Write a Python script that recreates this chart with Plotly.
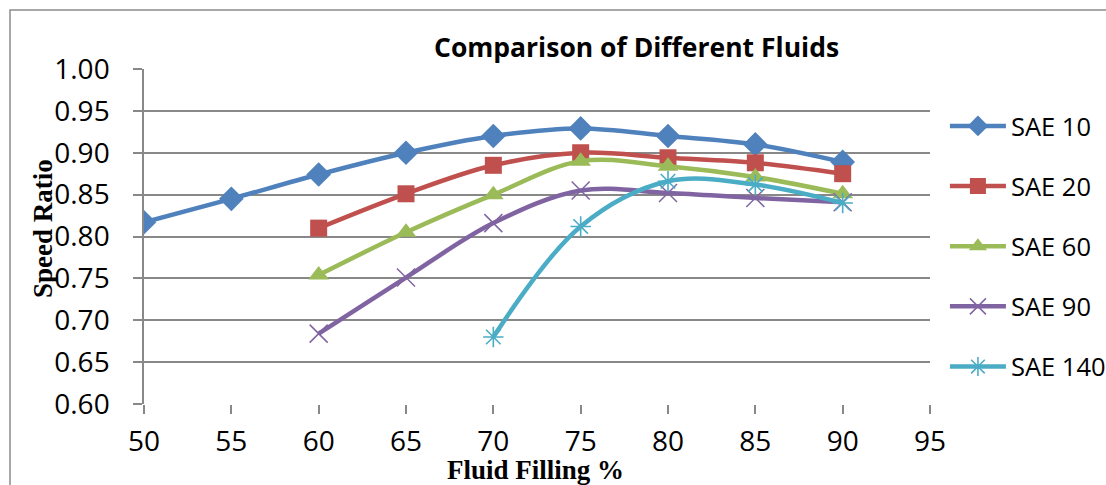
import plotly.graph_objects as go

# Fluid filling levels (%)
fill_pct = [50, 55, 60, 65, 70, 75, 80, 85, 90]

# Speed ratio for each oil grade
sae10 = [0.817, 0.845, 0.874, 0.900, 0.920, 0.929, 0.920, 0.910, 0.889]
sae20_x = [60, 65, 70, 75, 80, 85, 90]
sae20 = [0.810, 0.851, 0.885, 0.900, 0.894, 0.888, 0.875]
sae60_x = [60, 65, 70, 75, 80, 85, 90]
sae60 = [0.754, 0.805, 0.850, 0.890, 0.884, 0.871, 0.851]
sae90_x = [60, 65, 70, 75, 80, 85, 90]
sae90 = [0.684, 0.751, 0.816, 0.855, 0.852, 0.846, 0.841]
sae140_x = [70, 75, 80, 85, 90]
sae140 = [0.680, 0.812, 0.866, 0.862, 0.840]

x_ticks = [50, 55, 60, 65, 70, 75, 80, 85, 90, 95]
y_ticks = [0.60, 0.65, 0.70, 0.75, 0.80, 0.85, 0.90, 0.95, 1.00]

series = [
    ("SAE 10", fill_pct, sae10, "#4F81BD", "diamond", 19, 0),
    ("SAE 20", sae20_x, sae20, "#C0504D", "square", 17, 0),
    ("SAE 60", sae60_x, sae60, "#9BBB59", "triangle-up", 18, 0),
    ("SAE 90", sae90_x, sae90, "#8064A2", "x-thin-open", 18, 1.5),
    ("SAE 140", sae140_x, sae140, "#4BACC6", "asterisk-open", 17, 1.6),
]

fig = go.Figure()
for name, xs, ys, color, symbol, size, mlw in series:
    marker = dict(symbol=symbol, size=size, color=color)
    if mlw:
        marker["line"] = dict(color=color, width=mlw)
    else:
        marker["line"] = dict(width=0)
    fig.add_trace(go.Scatter(
        x=xs, y=ys, name=name, mode="lines+markers",
        line=dict(color=color, width=4.5, shape="spline", smoothing=1.0),
        marker=marker, legendgroup=name,
    ))

grid = "#888888"
fig.update_layout(
    width=1106, height=485,
    margin=dict(l=144, r=176, t=69, b=81, autoexpand=False),
    paper_bgcolor="white", plot_bgcolor="white",
    font=dict(family="Open Sans", color="black"),
    showlegend=True,
    legend=dict(
        x=1.019, xanchor="left", y=0.899, yanchor="top",
        font=dict(family="Open Sans", size=25.5, color="black"),
        itemwidth=56, tracegroupgap=24, bgcolor="rgba(0,0,0,0)",
    ),
    xaxis=dict(
        range=[50, 95], tickvals=x_ticks, ticktext=[str(v) for v in x_ticks],
        showgrid=False, zeroline=False,
        showline=False, ticks="outside", ticklen=9, tickcolor=grid, tickwidth=1.5,
        ticklabelstandoff=3,
        tickfont=dict(family="Open Sans", size=28, color="black"),
    ),
    yaxis=dict(
        range=[0.60, 1.00], tickvals=y_ticks, ticktext=[f"{v:.2f}" for v in y_ticks],
        showgrid=True, gridcolor=grid, gridwidth=1.5, zeroline=False,
        showline=True, linecolor=grid, linewidth=1.5,
        ticks="outside", ticklen=9, tickcolor=grid, tickwidth=1.5,
        ticklabelstandoff=18,
        tickfont=dict(family="Open Sans", size=28, color="black"),
    ),
)

# Chart area border
fig.add_shape(type="rect", xref="paper", yref="paper",
              x0=(10 - 144) / 786, x1=(1120 - 144) / 786,
              y0=-0.5, y1=1 + (69 - 10) / 335,
              line=dict(color="#8c8c8c", width=1.5), fillcolor="rgba(0,0,0,0)",
              layer="below")

# Title and axis titles
fig.add_annotation(text="<b>Comparison of Different Fluids</b>", xref="paper", yref="paper",
                   x=(636 - 144) / 786, y=1 + (69 - 47) / 335, showarrow=False,
                   xanchor="center", yanchor="middle",
                   font=dict(family="Open Sans", size=26.5, color="black"))
fig.add_annotation(text="<b>Fluid Filling %</b>", xref="paper", yref="paper",
                   x=(535 - 144) / 786, y=-(470 - 404) / 335, showarrow=False,
                   xanchor="center", yanchor="middle",
                   font=dict(family="Liberation Serif", size=27, color="black"))
fig.add_annotation(text="<b>Speed Ratio</b>", xref="paper", yref="paper",
                   x=(43 - 144) / 786, y=1 - (228 - 69) / 335, showarrow=False,
                   xanchor="center", yanchor="middle", textangle=-90,
                   font=dict(family="Liberation Serif", size=27, color="black"))

fig.write_html("out.html")
